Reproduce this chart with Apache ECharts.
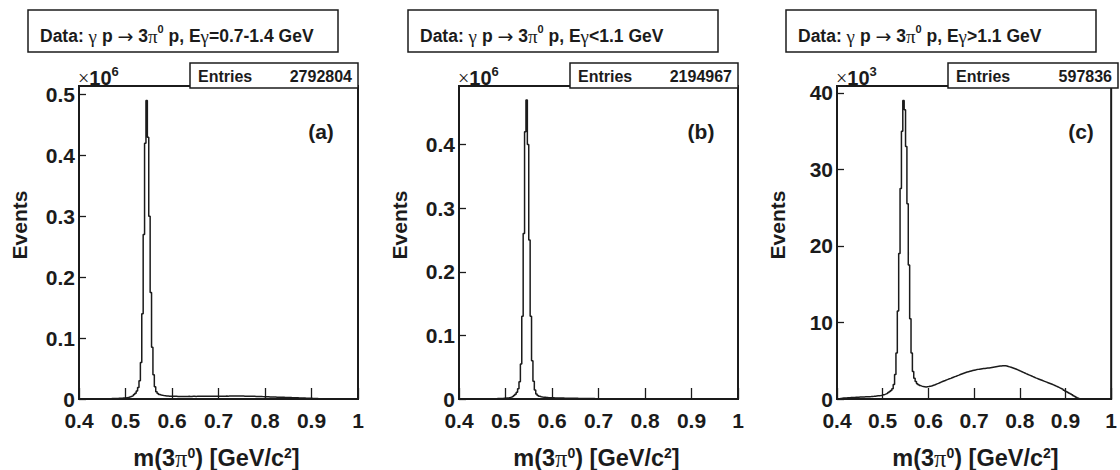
<!DOCTYPE html>
<html>
<head>
<meta charset="utf-8">
<script src="https://cdn.jsdelivr.net/npm/echarts@6/dist/echarts.min.js"></script>
<style>
  html, body { margin: 0; padding: 0; background: #ffffff; }
  #chart { width: 1120px; height: 470px; }
</style>
</head>
<body>
<div id="chart"></div>
<script>
// Invariant-mass histograms of 3pi0 candidates, 0.4-1.0 GeV in 3 MeV bins.
const BIN_LO = 0.4;
const BIN_W = 0.003;

// (a) all beam energies, in units of 10^6 events per bin
const histA = [
  0, 0.0001, 0.0001, 0.0001, 0.0001, 0.0002, 0.0002, 0.0002, 0.0002, 0.0002,
  0.0003, 0.0003, 0.0003, 0.0003, 0.0004, 0.0004, 0.0004, 0.0004, 0.0005, 0.0005,
  0.0005, 0.0006, 0.0006, 0.0007, 0.0007, 0.0008, 0.0009, 0.001, 0.0011, 0.0012,
  0.0014, 0.0016, 0.0018, 0.0021, 0.0025, 0.003, 0.0036, 0.0044, 0.0055, 0.0072,
  0.0095, 0.013, 0.019, 0.03, 0.06, 0.14, 0.27, 0.42, 0.49, 0.43,
  0.30, 0.175, 0.085, 0.04, 0.02, 0.012, 0.009, 0.0075, 0.0066, 0.006,
  0.0056, 0.0053, 0.005, 0.0048, 0.0046, 0.0045, 0.0044, 0.0044, 0.0044, 0.0044,
  0.0043, 0.0043, 0.0042, 0.0043, 0.0043, 0.0042, 0.0043, 0.0043, 0.0044, 0.0043,
  0.0043, 0.0044, 0.0044, 0.0043, 0.0044, 0.0044, 0.0044, 0.0045, 0.0044, 0.0045,
  0.0045, 0.0045, 0.0045, 0.0046, 0.0045, 0.0046, 0.0046, 0.0046, 0.0046, 0.0047,
  0.0047, 0.0047, 0.0047, 0.0047, 0.0047, 0.0048, 0.0047, 0.0048, 0.0048, 0.0048,
  0.0048, 0.0048, 0.0048, 0.0048, 0.0048, 0.0048, 0.0048, 0.0048, 0.0047, 0.0047,
  0.0047, 0.0046, 0.0046, 0.0045, 0.0045, 0.0044, 0.0043, 0.0042, 0.0042, 0.0041,
  0.004, 0.0039, 0.0038, 0.0037, 0.0036, 0.0035, 0.0034, 0.0034, 0.0033, 0.0032,
  0.0031, 0.003, 0.003, 0.0029, 0.0028, 0.0027, 0.0027, 0.0026, 0.0025, 0.0024,
  0.0024, 0.0023, 0.0022, 0.0021, 0.0021, 0.002, 0.0019, 0.0018, 0.0018, 0.0017,
  0.0016, 0.0015, 0.0014, 0.0013, 0.0013, 0.0012, 0.0011, 0.001, 0.0009, 0.0008,
  0.0007, 0.0006, 0.0005, 0.0004, 0.0003, 0.0002, 0.0001, 0, 0, 0,
  0, 0, 0, 0, 0, 0, 0, 0, 0, 0,
  0, 0, 0, 0, 0, 0, 0, 0, 0, 0
];

// (b) E_gamma < 1.1 GeV, in units of 10^6 events per bin
const histB = [
  0, 0, 0.0001, 0.0001, 0.0001, 0.0001, 0.0001, 0.0001, 0.0001, 0.0001,
  0.0001, 0.0002, 0.0002, 0.0002, 0.0002, 0.0002, 0.0002, 0.0003, 0.0003, 0.0003,
  0.0003, 0.0003, 0.0004, 0.0004, 0.0004, 0.0005, 0.0005, 0.0006, 0.0007, 0.0008,
  0.0009, 0.001, 0.0012, 0.0014, 0.0017, 0.002, 0.0025, 0.0032, 0.0042, 0.0055,
  0.0075, 0.0105, 0.016, 0.027, 0.055, 0.13, 0.26, 0.42, 0.47, 0.40,
  0.25, 0.13, 0.06, 0.028, 0.014, 0.008, 0.0055, 0.0043, 0.0036, 0.0031,
  0.0028, 0.0026, 0.0024, 0.0022, 0.0021, 0.002, 0.0019, 0.0018, 0.0017, 0.0017,
  0.0016, 0.0015, 0.0015, 0.0014, 0.0014, 0.0013, 0.0013, 0.0012, 0.0012, 0.0011,
  0.0011, 0.0011, 0.001, 0.001, 0.001, 0.0009, 0.0009, 0.0009, 0.0008, 0.0008,
  0.0008, 0.0007, 0.0007, 0.0007, 0.0006, 0.0006, 0.0006, 0.0005, 0.0005, 0.0005,
  0.0005, 0.0004, 0.0004, 0.0004, 0.0004, 0.0003, 0.0003, 0.0003, 0.0003, 0.0003,
  0.0002, 0.0002, 0.0002, 0.0002, 0.0002, 0.0001, 0.0001, 0.0001, 0.0001, 0.0001,
  0.0001, 0.0001, 0.0001, 0.0001, 0.0001, 0, 0, 0, 0, 0,
  0, 0, 0, 0, 0, 0, 0, 0, 0, 0,
  0, 0, 0, 0, 0, 0, 0, 0, 0, 0,
  0, 0, 0, 0, 0, 0, 0, 0, 0, 0,
  0, 0, 0, 0, 0, 0, 0, 0, 0, 0,
  0, 0, 0, 0, 0, 0, 0, 0, 0, 0,
  0, 0, 0, 0, 0, 0, 0, 0, 0, 0,
  0, 0, 0, 0, 0, 0, 0, 0, 0, 0
];

// (c) E_gamma > 1.1 GeV, in units of 10^3 events per bin
const histC = [
  0, 0.05, 0.08, 0.1, 0.12, 0.12, 0.14, 0.15, 0.16, 0.18,
  0.19, 0.2, 0.21, 0.22, 0.23, 0.24, 0.25, 0.26, 0.26, 0.27,
  0.28, 0.29, 0.3, 0.31, 0.32, 0.34, 0.35, 0.37, 0.39, 0.41,
  0.43, 0.46, 0.5, 0.55, 0.6, 0.67, 0.75, 0.85, 0.97, 1.12,
  1.35, 1.9, 3.2, 6.0, 11.5, 19.0, 27.5, 35.0, 39.0, 37.8,
  33.0, 25.5, 17.5, 10.5, 6.0, 3.6, 2.7, 2.3, 2.0, 1.85,
  1.75, 1.68, 1.62, 1.6, 1.58, 1.6, 1.62, 1.66, 1.7, 1.76,
  1.82, 1.9, 1.97, 2.04, 2.12, 2.2, 2.28, 2.35, 2.42, 2.5,
  2.57, 2.64, 2.7, 2.78, 2.85, 2.92, 2.98, 3.05, 3.12, 3.2,
  3.27, 3.34, 3.4, 3.46, 3.52, 3.57, 3.62, 3.67, 3.72, 3.76,
  3.8, 3.84, 3.87, 3.9, 3.93, 3.96, 3.98, 4.0, 4.02, 4.04,
  4.06, 4.09, 4.12, 4.15, 4.18, 4.21, 4.24, 4.27, 4.3, 4.32,
  4.34, 4.35, 4.33, 4.3, 4.25, 4.2, 4.14, 4.08, 4.02, 3.95,
  3.88, 3.8, 3.72, 3.64, 3.56, 3.48, 3.4, 3.32, 3.24, 3.16,
  3.08, 3.0, 2.92, 2.84, 2.76, 2.69, 2.62, 2.55, 2.48, 2.41,
  2.34, 2.27, 2.2, 2.13, 2.06, 1.99, 1.92, 1.84, 1.76, 1.68,
  1.6, 1.52, 1.43, 1.34, 1.25, 1.15, 1.05, 0.95, 0.85, 0.75,
  0.65, 0.54, 0.43, 0.32, 0.22, 0.12, 0.05, 0.01, 0, 0,
  0, 0, 0, 0, 0, 0, 0, 0, 0, 0,
  0, 0, 0, 0, 0, 0, 0, 0, 0, 0
];

const entryCounts = [2792804, 2194967, 597836];
const panelTags = ['(a)', '(b)', '(c)'];
const beamCuts = ['=0.7-1.4 GeV', '<1.1 GeV', '>1.1 GeV'];
const yExponents = ['6', '6', '3'];
const yTops = [0.514, 0.492, 40.9];
const ySteps = [0.1, 0.1, 10];
const xTicks = { min: 0.4, max: 1.0, step: 0.1 };

// ---- presentation ----
const SANS = '"Liberation Sans", Arial, Helvetica, sans-serif';
const SYM = '"Liberation Serif", "DejaVu Serif", serif';
const ARROW = '"DejaVu Sans", sans-serif';
const INK = '#1b1b1b';
const layout = [
  { left: 79, width: 279 },
  { left: 459, width: 279 },
  { left: 837, width: 281 }
];
const GRID_TOP = 86, GRID_H = 313;

function histPoints(counts) {
  const pts = counts.map((c, k) => [BIN_LO + k * BIN_W, c]);
  pts.push([BIN_LO + counts.length * BIN_W, counts[counts.length - 1]]);
  return pts;
}
const hists = [histA, histB, histC];

const titleRich = {
  b: { fontFamily: SANS, fontWeight: 'bold', fontSize: 17.5, lineHeight: 26, fill: INK },
  g: { fontFamily: SYM, fontWeight: 'normal', fontSize: 19, lineHeight: 26, fill: INK },
  a: { fontFamily: ARROW, fontWeight: 'normal', fontSize: 19, lineHeight: 26, fill: INK },
  s: { fontFamily: SANS, fontWeight: 'bold', fontSize: 11, lineHeight: 11, verticalAlign: 'top', fill: INK }
};
const axisTitleRich = {
  b: { fontFamily: SANS, fontWeight: 'bold', fontSize: 23.5, lineHeight: 25, fill: INK },
  g: { fontFamily: SYM, fontWeight: 'normal', fontSize: 24.5, lineHeight: 25, fill: INK },
  s: { fontFamily: SANS, fontWeight: 'bold', fontSize: 14, lineHeight: 14, verticalAlign: 'top', fill: INK }
};
const expRich = {
  x: { fontFamily: SYM, fontWeight: 'normal', fontSize: 20, lineHeight: 26, fill: INK },
  b: { fontFamily: SANS, fontWeight: 'bold', fontSize: 20, lineHeight: 26, fill: INK },
  s: { fontFamily: SANS, fontWeight: 'bold', fontSize: 13, lineHeight: 13, verticalAlign: 'top', fill: INK }
};

const grids = [], xAxes = [], yAxes = [], series = [], graphics = [];

layout.forEach((L, i) => {
  grids.push({
    left: L.left, top: GRID_TOP, width: L.width, height: GRID_H,
    show: true, borderColor: INK, borderWidth: 2, backgroundColor: 'transparent'
  });
  xAxes.push({
    type: 'value', gridIndex: i,
    min: xTicks.min, max: xTicks.max, interval: xTicks.step,
    axisLine: { show: false },
    axisTick: { show: true, inside: true, length: 11, lineStyle: { color: INK, width: 1.3 } },
    splitLine: { show: false },
    axisLabel: {
      show: true, margin: 11, color: INK, fontFamily: SANS, fontWeight: 'bold', fontSize: 21,
      hideOverlap: false, showMinLabel: true, showMaxLabel: true,
      formatter: v => (Math.abs(v - 1) < 1e-9 ? '1' : v.toFixed(1))
    }
  });
  const step = ySteps[i];
  yAxes.push({
    type: 'value', gridIndex: i,
    min: 0, max: yTops[i], interval: step,
    axisLine: { show: false },
    axisTick: { show: true, inside: true, length: 7, lineStyle: { color: INK, width: 1.3 } },
    splitLine: { show: false },
    axisLabel: {
      show: true, margin: 4, color: INK, fontFamily: SANS, fontWeight: 'bold', fontSize: 21,
      hideOverlap: false, showMinLabel: true, showMaxLabel: false,
      formatter: v => {
        const k = Math.round(v / step);
        if (Math.abs(v - k * step) > 1e-9) return '';
        if (k === 0) return '0';
        return step < 1 ? (k * step).toFixed(1) : String(k * step);
      }
    }
  });
  series.push({
    type: 'line', xAxisIndex: i, yAxisIndex: i,
    data: histPoints(hists[i]), step: 'end',
    symbol: 'none', silent: true, animation: false,
    lineStyle: { color: INK, width: 1.5 }
  });

  const right = L.left + L.width;
  // title box
  graphics.push({
    type: 'rect', z: 10,
    shape: { x: L.left - 51, y: 10, width: 310, height: 42 },
    style: { fill: '#ffffff', stroke: INK, lineWidth: 1.5 }
  });
  graphics.push({
    type: 'text', z: 11, x: L.left - 39, y: 36,
    style: {
      text: '{b|Data: }{g|γ}{b| p }{a|→}{b| 3}{g|π}{s|0}{b| p, E}{g|γ}{b|' + beamCuts[i] + '}',
      rich: titleRich, align: 'left', verticalAlign: 'middle'
    }
  });
  // statistics box
  graphics.push({
    type: 'rect', z: 10,
    shape: { x: L.left + 111, y: 63, width: L.width - 111, height: 25 },
    style: { fill: '#ffffff', stroke: INK, lineWidth: 1.5 }
  });
  graphics.push({
    type: 'text', z: 11, x: L.left + 119, y: 76,
    style: { text: 'Entries', fill: INK, fontFamily: SANS, fontWeight: 'bold', fontSize: 16, align: 'left', verticalAlign: 'middle' }
  });
  graphics.push({
    type: 'text', z: 11, x: right - 6, y: 76,
    style: { text: String(entryCounts[i]), fill: INK, fontFamily: SANS, fontWeight: 'bold', fontSize: 16, align: 'right', verticalAlign: 'middle' }
  });
  // axis multiplier
  graphics.push({
    type: 'text', z: 11, x: L.left - 1, y: 91,
    style: { text: '{x|×}{b|10}{s|' + yExponents[i] + '}', rich: expRich, align: 'left', verticalAlign: 'bottom' }
  });
  // panel tag
  graphics.push({
    type: 'text', z: 11, x: right - 37, y: 131,
    style: { text: panelTags[i], fill: INK, fontFamily: SANS, fontWeight: 'bold', fontSize: 21, align: 'center', verticalAlign: 'middle' }
  });
  // axis titles
  graphics.push({
    type: 'text', z: 11, x: L.left - 60, y: 225, rotation: Math.PI / 2,
    style: { text: 'Events', fill: INK, fontFamily: SANS, fontWeight: 'bold', fontSize: 21, align: 'center', verticalAlign: 'middle' }
  });
  graphics.push({
    type: 'text', z: 11, x: L.left + L.width / 2 - 2, y: 458,
    style: {
      text: '{b|m(3}{g|π}{s|0}{b|) [GeV/c}{s|2}{b|]}',
      rich: axisTitleRich, align: 'center', verticalAlign: 'middle'
    }
  });
});

const chart = echarts.init(document.getElementById('chart'), null, { renderer: 'svg', width: 1120, height: 470 });
chart.setOption({
  animation: false,
  backgroundColor: '#ffffff',
  grid: grids,
  xAxis: xAxes,
  yAxis: yAxes,
  series: series,
  graphic: { elements: graphics }
});
</script>
</body>
</html>
